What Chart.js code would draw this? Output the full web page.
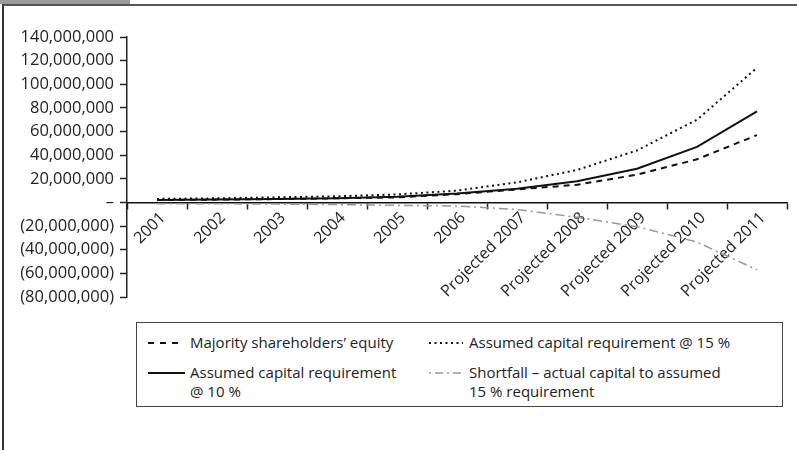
<!DOCTYPE html>
<html><head><meta charset="utf-8">
<script src="https://cdn.jsdelivr.net/npm/chart.js@4.4.0/dist/chart.umd.min.js"></script>
<style>
html,body{margin:0;padding:0;background:#fff;}
body{width:797px;height:450px;position:relative;overflow:hidden;font-family:"Open Sans",sans-serif;}
#tab{position:absolute;left:0;top:0;width:130px;height:4px;background:#9a9a9a;}
#hline{position:absolute;left:2px;top:4px;width:795px;height:2px;background:#555;}
#vline{position:absolute;left:2px;top:4px;width:2px;height:446px;background:#333;}
#cv{position:absolute;left:0;top:0;}
#legend{position:absolute;left:136px;top:322px;width:647px;height:85px;border:1.5px solid #444;box-sizing:border-box;font-size:15px;color:#222;}
#legend svg{position:absolute;left:0;top:0;}
.item{position:absolute;line-height:19px;white-space:nowrap;}
</style></head>
<body>
<div id="tab"></div><div id="hline"></div><div id="vline"></div>
<canvas id="cv" width="797" height="320"></canvas>
<div id="legend">
  <svg width="647" height="85">
    <line x1="11" y1="20" x2="42" y2="20" stroke="#111" stroke-width="2" stroke-dasharray="6,6"/>
    <line x1="292" y1="20" x2="326" y2="20" stroke="#111" stroke-width="2" stroke-dasharray="2,3.5"/>
    <line x1="11" y1="50" x2="48" y2="50" stroke="#111" stroke-width="2"/>
    <line x1="292" y1="50" x2="326" y2="50" stroke="#999" stroke-width="1.5" stroke-dasharray="2,4,8,4"/>
  </svg>
  <div class="item" style="left:53px;top:10px;">Majority shareholders’ equity</div>
  <div class="item" style="left:332px;top:10px;">Assumed capital requirement @ 15 %</div>
  <div class="item" style="left:53px;top:40px;">Assumed capital requirement<br>@ 10 %</div>
  <div class="item" style="left:332px;top:40px;">Shortfall – actual capital to assumed<br>15 % requirement</div>
</div>
<script>
const categories = ['2001','2002','2003','2004','2005','2006','Projected 2007','Projected 2008','Projected 2009','Projected 2010','Projected 2011'];
const equity    = [2000000, 2400000, 2900000, 3500000, 4300000, 7000000, 11000000, 15000000, 23500000, 36500000, 57000000];
const req10     = [2000000, 2400000, 2900000, 3600000, 4800000, 7500000, 11500000, 18000000, 28500000, 47000000, 77000000];
const req15     = [3000000, 3500000, 4300000, 5200000, 6800000, 10000000, 17000000, 27500000, 44000000, 70000000, 114000000];
const shortfall = [-1000000, -1100000, -1400000, -1800000, -2500000, -3000000, -6000000, -12500000, -20500000, -33500000, -57000000];
const yMin = -80000000, yMax = 140000000, yStep = 20000000;

function fmt(v){
  if (v === 0) return '–';
  const s = Math.abs(v).toLocaleString('en-US');
  return v < 0 ? '(' + s + ')' : s;
}
const yFont = {family: '"Open Sans", sans-serif', size: 16.5};
const xFont = {family: '"Open Sans", sans-serif', size: 16};
new Chart(document.getElementById('cv'), {
  type: 'line',
  data: {
    labels: categories,
    datasets: [
      {label: 'Majority shareholders’ equity', data: equity, borderColor: '#111', borderWidth: 2, borderDash: [6,5], pointRadius: 0, tension: 0, fill: false},
      {label: 'Assumed capital requirement @ 10 %', data: req10, borderColor: '#111', borderWidth: 2, pointRadius: 0, tension: 0, fill: false},
      {label: 'Assumed capital requirement @ 15 %', data: req15, borderColor: '#111', borderWidth: 2, borderDash: [2,3.5], pointRadius: 0, tension: 0, fill: false},
      {label: 'Shortfall – actual capital to assumed 15 % requirement', data: shortfall, borderColor: '#999', borderWidth: 1.5, borderDash: [9,4,2,4], pointRadius: 0, tension: 0, fill: false}
    ]
  },
  options: {
    responsive: false,
    animation: false,
    devicePixelRatio: 1,
    layout: {padding: {top: 37, right: 10, bottom: 23, left: 0}},
    plugins: {legend: {display: false}, tooltip: {enabled: false}},
    scales: {
      y: {
        min: yMin, max: yMax,
        ticks: {stepSize: yStep, callback: (v) => fmt(v), font: yFont, color: '#222', padding: 6},
        grid: {drawOnChartArea: false, tickLength: 7, color: '#222', tickWidth: 1.5},
        border: {color: '#222', width: 1.5},
        afterFit: (s) => { s.width = 127; }
      },
      x: {
        type: 'category',
        position: {y: 0},
        offset: true,
        ticks: {font: xFont, color: '#222', minRotation: 45, maxRotation: 45, autoSkip: false, padding: 0, labelOffset: 6},
        grid: {drawOnChartArea: false, offset: true, tickLength: 6, color: '#222', tickWidth: 1.5},
        border: {color: '#111', width: 1.5},
        afterFit: (s) => { s.height = 0; }
      }
    }
  }
});
</script>
</body></html>
